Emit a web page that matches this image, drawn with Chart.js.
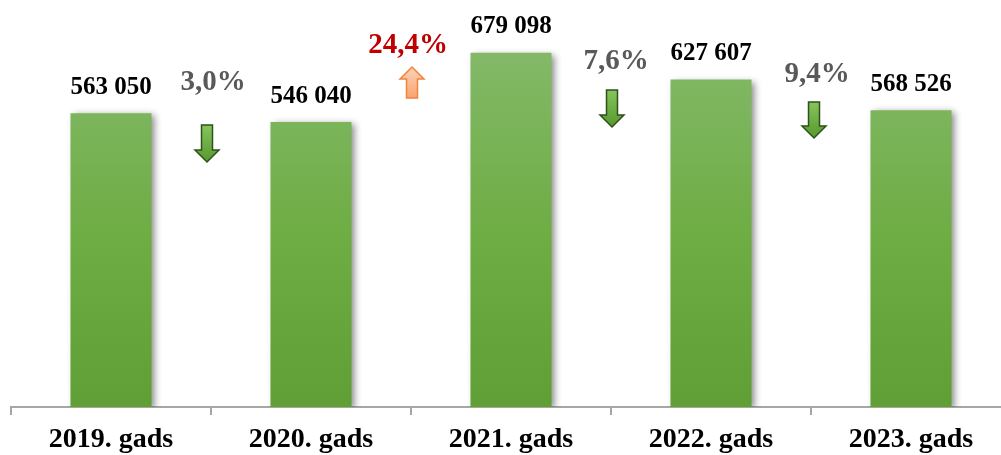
<!DOCTYPE html>
<html>
<head>
<meta charset="utf-8">
<script src="https://cdn.jsdelivr.net/npm/chart.js@4/dist/chart.umd.min.js"></script>
<style>
    html, body { margin: 0; padding: 0; background: #fff; overflow: hidden; }
    #wrap { position: relative; width: 1012px; height: 455px; }
</style>
</head>
<body>
<div id="wrap"><canvas id="gads"></canvas></div>
<script>
const years = ['2019. gads', '2020. gads', '2021. gads', '2022. gads', '2023. gads']
const totals = [563050, 546040, 679098, 627607, 568526]
const changes = ['3,0%', '24,4%', '7,6%', '9,4%']
const directions = ['down', 'up', 'down', 'down']

const serif = '"Liberation Serif", "Times New Roman", serif'

function spaced(v) {
    return String(v).replace(/\B(?=(\d{3})+(?!\d))/g, ' ')
}

// soft shadow under the bars
const barShadow = {
    id: 'barShadow',
    beforeDatasetsDraw(chart) {
        const ctx = chart.ctx
        ctx.save()
        ctx.shadowColor = 'rgba(0,0,0,0.45)'
        ctx.shadowBlur = 7
        ctx.shadowOffsetX = 3
        ctx.shadowOffsetY = 2
    },
    afterDatasetsDraw(chart) {
        chart.ctx.restore()
    }
}

function drawArrow(ctx, cx, top, bottom, dir, fill, stroke) {
    const shaft = 5.5, head = 12, headLen = 12
    ctx.beginPath()
    if (dir === 'down') {
        ctx.moveTo(cx - shaft, top)
        ctx.lineTo(cx + shaft, top)
        ctx.lineTo(cx + shaft, bottom - headLen)
        ctx.lineTo(cx + head, bottom - headLen)
        ctx.lineTo(cx, bottom)
        ctx.lineTo(cx - head, bottom - headLen)
        ctx.lineTo(cx - shaft, bottom - headLen)
    } else {
        ctx.moveTo(cx - shaft, bottom)
        ctx.lineTo(cx + shaft, bottom)
        ctx.lineTo(cx + shaft, top + headLen)
        ctx.lineTo(cx + head, top + headLen)
        ctx.lineTo(cx, top)
        ctx.lineTo(cx - head, top + headLen)
        ctx.lineTo(cx - shaft, top + headLen)
    }
    ctx.closePath()
    const g = ctx.createLinearGradient(0, top, 0, bottom)
    g.addColorStop(0, fill[0])
    g.addColorStop(1, fill[1])
    ctx.fillStyle = g
    ctx.fill()
    ctx.lineWidth = 1.5
    ctx.strokeStyle = stroke
    ctx.stroke()
}

const labelsAndArrows = {
    id: 'labelsAndArrows',
    afterDraw(chart, args, opts) {
        const ctx = chart.ctx
        const x = chart.scales.x
        const meta = chart.getDatasetMeta(0)
        ctx.save()
        ctx.textAlign = 'center'
        ctx.textBaseline = 'middle'

        ctx.font = 'bold 25px ' + serif
        ctx.fillStyle = '#000'
        meta.data.forEach((bar, i) => {
            ctx.fillText(spaced(totals[i]), bar.x, bar.y - 26)
        })

        changes.forEach((txt, i) => {
            const bx = (x.getPixelForValue(i) + x.getPixelForValue(i + 1)) / 2
            const up = directions[i] === 'up'
            ctx.font = 'bold 29px ' + serif
            ctx.fillStyle = up ? '#C00000' : '#595959'
            ctx.fillText(txt, bx + opts.textDx[i], opts.textY[i])
            if (up) {
                drawArrow(ctx, bx + opts.arrowDx[i], opts.arrowTop[i], opts.arrowBottom[i], 'up',
                    ['#FCD3BA', '#F8A46E'], '#F0843C')
            } else {
                drawArrow(ctx, bx + opts.arrowDx[i], opts.arrowTop[i], opts.arrowBottom[i], 'down',
                    ['#86C45C', '#56992E'], '#2E521A')
            }
        })
        ctx.restore()
    }
}

const ctx = document.getElementById('gads').getContext('2d')

new Chart(ctx, {
    type: 'bar',
    data: {
        labels: years,
        datasets: [{
            data: totals,
            backgroundColor(c) {
                const area = c.chart.chartArea
                if (!area) return '#6FAD45'
                const g = c.chart.ctx.createLinearGradient(0, area.top + 50, 0, area.bottom)
                g.addColorStop(0, '#83B968')
                g.addColorStop(0.5, '#6FAD45')
                g.addColorStop(1, '#5F9F35')
                return g
            },
            borderWidth: 0,
            categoryPercentage: 1,
            barPercentage: 0.405
        }]
    },
    options: {
        responsive: true,
        maintainAspectRatio: false,
        animation: false,
        layout: { padding: { left: 11, right: 1, top: 0, bottom: 0 } },
        plugins: {
            legend: { display: false },
            tooltip: { enabled: false },
            labelsAndArrows: {
                textY: [83, 46, 62, 75],
                textDx: [2, -3, 5, 6],
                arrowTop: [125, 67, 90, 102],
                arrowBottom: [162, 98, 127, 138],
                arrowDx: [-4, 1, 1, 3]
            }
        },
        scales: {
            x: {
                afterFit(scale) { scale.height = 48 },
                grid: {
                    display: true,
                    drawOnChartArea: false,
                    tickLength: 8,
                    color: '#A6A6A6',
                    lineWidth: 2
                },
                border: { color: '#A6A6A6', width: 2 },
                ticks: {
                    color: '#000',
                    padding: 8,
                    font: { family: serif, size: 28, weight: 'bold' }
                }
            },
            y: {
                display: false,
                min: 0,
                max: 780000
            }
        }
    },
    plugins: [barShadow, labelsAndArrows]
})
</script>
</body>
</html>
